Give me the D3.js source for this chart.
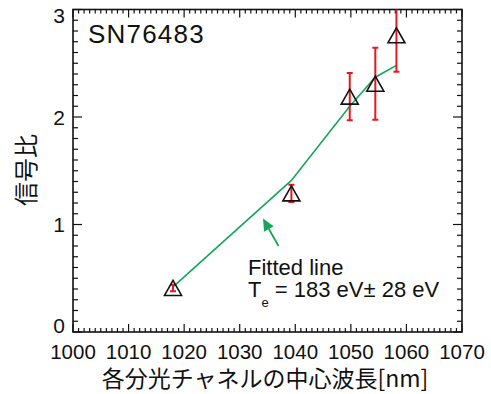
<!DOCTYPE html>
<html>
<head>
<meta charset="utf-8">
<script src="https://cdn.jsdelivr.net/npm/d3@7"></script>
<style>
  body { margin: 0; background: #fff; }
  text { font-family: "Liberation Sans", Arial, sans-serif; fill: #111; }
  .jp { font-family: "Noto Sans CJK JP", sans-serif; }
</style>
</head>
<body>
<script>
// signal ratio per channel, with the fitted curve

var wavelengths = [1018.0, 1039.3, 1049.8, 1054.4, 1058.2];
var ratios = [0.41, 1.29, 2.19, 2.31, 2.76];
var errors = [0.03, 0.08, 0.22, 0.335, 0.34];
var fitted = [0.42, 1.41, 2.10, 2.37, 2.48];

var xTicks = [1000, 1010, 1020, 1030, 1040, 1050, 1060, 1070];
var yTicks = [0, 1, 2, 3];

var width = 491, height = 394;
var pLeft = 73, pRight = 462, pTop = 9.5, pBottom = 332;

var svg = d3.select("body").append("svg")
    .attr("width", width)
    .attr("height", height);

var x = d3.scaleLinear().domain([1000, 1070]).range([pLeft, pRight]);
var y = d3.scaleLinear().domain([0, 3]).range([pBottom, pTop]);

svg.append("defs").append("clipPath").attr("id", "plot")
  .append("rect")
    .attr("x", pLeft).attr("y", pTop)
    .attr("width", pRight - pLeft).attr("height", pBottom - pTop);

// ticks on all four sides (minor every 1 nm / 0.1)
var xMinor = d3.range(1000, 1071, 1);
var yMinor = d3.range(0, 31, 1).map(function(i) { return i / 10; });

var axisG = svg.append("g").attr("stroke", "#111").attr("stroke-width", 1.2);

xMinor.forEach(function(v) {
    var len = v % 10 === 0 ? 8 : 4;
    axisG.append("line")
        .attr("x1", x(v)).attr("x2", x(v))
        .attr("y1", pBottom).attr("y2", pBottom - len);
    axisG.append("line")
        .attr("x1", x(v)).attr("x2", x(v))
        .attr("y1", pTop).attr("y2", pTop + len);
});

yMinor.forEach(function(v, i) {
    var len = i % 10 === 0 ? 9 : 5;
    axisG.append("line")
        .attr("x1", pLeft).attr("x2", pLeft + len)
        .attr("y1", y(v)).attr("y2", y(v));
    axisG.append("line")
        .attr("x1", pRight).attr("x2", pRight - len)
        .attr("y1", y(v)).attr("y2", y(v));
});

svg.append("rect")
    .attr("x", pLeft).attr("y", pTop)
    .attr("width", pRight - pLeft).attr("height", pBottom - pTop)
    .attr("fill", "none")
    .attr("stroke", "#111")
    .attr("stroke-width", 1.6);

// tick labels
svg.selectAll(".xlab").data(xTicks).enter().append("text")
    .attr("class", "xlab")
    .attr("x", function(d) { return x(d); })
    .attr("y", 359)
    .attr("text-anchor", "middle")
    .style("font-size", "20.5px")
    .text(function(d) { return d; });

svg.selectAll(".ylab").data(yTicks).enter().append("text")
    .attr("class", "ylab")
    .attr("x", 65)
    .attr("y", function(d) { return Math.min(Math.max(y(d), pTop + 6), pBottom - 7); })
    .attr("dy", "0.36em")
    .attr("text-anchor", "end")
    .style("font-size", "21px")
    .text(function(d) { return d; });

// axis titles
svg.append("text")
    .attr("class", "jp")
    .attr("x", 265)
    .attr("y", 387)
    .attr("text-anchor", "middle")
    .style("font-size", "23px")
    .text("各分光チャネルの中心波長[nm]");

svg.append("text")
    .attr("class", "jp")
    .attr("transform", "translate(35,170) rotate(-90)")
    .attr("text-anchor", "middle")
    .style("font-size", "24px")
    .text("信号比");

svg.append("text")
    .attr("x", 88)
    .attr("y", 43)
    .style("font-size", "26px")
    .style("letter-spacing", "1.2px")
    .text("SN76483");

var plot = svg.append("g").attr("clip-path", "url(#plot)");

// fitted line
var line = d3.line()
    .x(function(d, i) { return x(wavelengths[i]); })
    .y(function(d) { return y(d); });

plot.append("path")
    .datum(fitted)
    .attr("d", line)
    .attr("fill", "none")
    .attr("stroke", "#17a558")
    .attr("stroke-width", 1.6);

// error bars
var errG = plot.selectAll(".err").data(ratios).enter().append("g")
    .attr("stroke", "#e5191f")
    .attr("stroke-width", 2);

errG.append("line")
    .attr("x1", function(d, i) { return x(wavelengths[i]); })
    .attr("x2", function(d, i) { return x(wavelengths[i]); })
    .attr("y1", function(d, i) { return y(d - errors[i]); })
    .attr("y2", function(d, i) { return y(d + errors[i]); });

[-1, 1].forEach(function(s) {
    errG.append("line")
        .attr("x1", function(d, i) { return x(wavelengths[i]) - 3; })
        .attr("x2", function(d, i) { return x(wavelengths[i]) + 3; })
        .attr("y1", function(d, i) { return y(d + s * errors[i]); })
        .attr("y2", function(d, i) { return y(d + s * errors[i]); });
});

// triangles
plot.selectAll(".tri").data(ratios).enter().append("path")
    .attr("d", function(d, i) {
        var cx = x(wavelengths[i]), cy = y(d);
        return "M" + (cx - 8.5) + "," + (cy + 7.5) +
               "L" + cx + "," + (cy - 7.5) +
               "L" + (cx + 8.5) + "," + (cy + 7.5) + "Z";
    })
    .attr("fill", "none")
    .attr("stroke", "#111")
    .attr("stroke-width", 1.6)
    .attr("stroke-linejoin", "miter");

// arrow to the fitted line
var ax1 = 278.5, ay1 = 246, ax2 = 263, ay2 = 218.5;
var ang = Math.atan2(ay2 - ay1, ax2 - ax1);
var hl = 12, hw = 5.5;
var bx = ax2 - hl * Math.cos(ang), by = ay2 - hl * Math.sin(ang);

svg.append("line")
    .attr("x1", ax1).attr("y1", ay1)
    .attr("x2", bx).attr("y2", by)
    .attr("stroke", "#17a558")
    .attr("stroke-width", 1.8);

svg.append("path")
    .attr("d", "M" + ax2 + "," + ay2 +
        "L" + (bx + hw * Math.sin(ang)) + "," + (by - hw * Math.cos(ang)) +
        "L" + (bx - hw * Math.sin(ang)) + "," + (by + hw * Math.cos(ang)) + "Z")
    .attr("fill", "#17a558");

// annotation
svg.append("text")
    .attr("x", 248)
    .attr("y", 275)
    .style("font-size", "22px")
    .text("Fitted line");

var te = svg.append("text")
    .attr("x", 248)
    .attr("y", 297)
    .style("font-size", "22px");
te.append("tspan").text("T");
te.append("tspan").attr("dy", 10).style("font-size", "13px").text("e");
te.append("tspan").attr("dy", -10).text(" = 183 eV\u00b1 28 eV");
</script>
</body>
</html>
